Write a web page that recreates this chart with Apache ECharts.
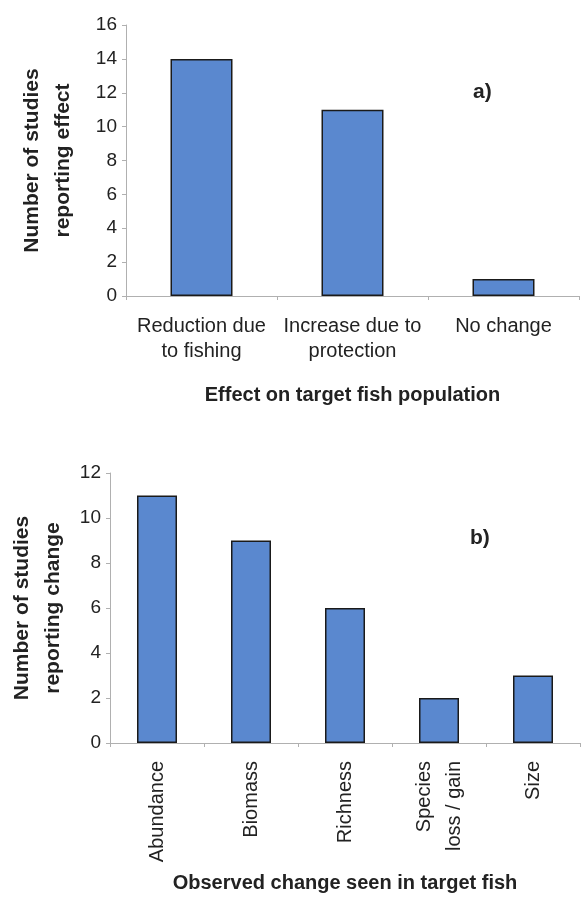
<!DOCTYPE html>
<html>
<head>
<meta charset="utf-8">
<script src="https://cdn.jsdelivr.net/npm/echarts@6/dist/echarts.min.js"></script>
<style>
  html, body { margin: 0; padding: 0; background: #fff; }
  #chart { width: 581px; height: 909px; }
</style>
</head>
<body>
<div id="chart"></div>
<script>
// panel a)
let effectCats = ['Reduction due\nto fishing', 'Increase due to\nprotection', 'No change'];
let effectVals = [14, 11, 1];
// panel b)
let changeCats = ['Abundance', 'Biomass', 'Richness', 'Species\nloss / gain', 'Size'];
let changeVals = [11, 9, 6, 2, 3];

let FONT = '"Liberation Sans", Arial, sans-serif';
let AXIS_GREY = '#b0b0b0';
let BAR_BLUE = '#5a88cf';

function yAxisBase (max, gridIndex, title, gap) {
  return {
    type: 'value',
    gridIndex: gridIndex,
    min: 0,
    max: max,
    interval: 2,
    name: title,
    nameLocation: 'middle',
    nameGap: gap,
    nameTextStyle: { fontFamily: FONT, fontSize: 21, fontWeight: 'bold', color: '#222', lineHeight: 31 },
    axisLine: { show: true, lineStyle: { color: AXIS_GREY, width: 1 } },
    axisTick: { show: true, length: 4, lineStyle: { color: AXIS_GREY } },
    axisLabel: { fontFamily: FONT, fontSize: 19, color: '#222', margin: 9 },
    splitLine: { show: false }
  };
}

function barSeries (vals, idx, width) {
  return {
    type: 'bar',
    xAxisIndex: idx,
    yAxisIndex: idx,
    data: vals,
    barWidth: width,
    itemStyle: { color: BAR_BLUE, borderColor: '#1a1a1a', borderWidth: 1.5 },
    animation: false
  };
}

let chart = echarts.init(document.getElementById('chart'));
let option = {
  backgroundColor: '#fff',
  animation: false,
  grid: [
    { left: 126, right: 2, top: 25, bottom: 613, outerBoundsMode: 'none', containLabel: false },
    { left: 110, right: 1, top: 473, bottom: 166, outerBoundsMode: 'none', containLabel: false }
  ],
  xAxis: [
    {
      type: 'category',
      gridIndex: 0,
      data: effectCats,
      name: 'Effect on target fish population',
      nameLocation: 'middle',
      nameGap: 89,
      nameTextStyle: { fontFamily: FONT, fontSize: 20, fontWeight: 'bold', color: '#222' },
      axisLine: { lineStyle: { color: AXIS_GREY } },
      axisTick: { show: true, length: 4, lineStyle: { color: AXIS_GREY } },
      axisLabel: { fontFamily: FONT, fontSize: 20, color: '#222', lineHeight: 25, margin: 18, interval: 0 }
    },
    {
      type: 'category',
      gridIndex: 1,
      data: changeCats,
      name: 'Observed change seen in target fish',
      nameLocation: 'middle',
      nameGap: 130,
      nameTextStyle: { fontFamily: FONT, fontSize: 20, fontWeight: 'bold', color: '#222' },
      axisLine: { lineStyle: { color: AXIS_GREY } },
      axisTick: { show: true, length: 4, lineStyle: { color: AXIS_GREY } },
      axisLabel: { fontFamily: FONT, fontSize: 20, color: '#222', lineHeight: 30, margin: 18, rotate: 90, interval: 0 }
    }
  ],
  yAxis: [
    yAxisBase(16, 0, 'Number of studies\nreporting effect', 47),
    yAxisBase(12, 1, 'Number of studies\nreporting change', 40)
  ],
  series: [
    barSeries(effectVals, 0, 62),
    barSeries(changeVals, 1, 40)
  ],
  graphic: [
    { type: 'text', left: 473, top: 82, style: { text: 'a)', font: 'bold 21px ' + FONT, fill: '#222' } },
    { type: 'text', left: 470, top: 528, style: { text: 'b)', font: 'bold 21px ' + FONT, fill: '#222' } }
  ]
};
chart.setOption(option);
</script>
</body>
</html>
